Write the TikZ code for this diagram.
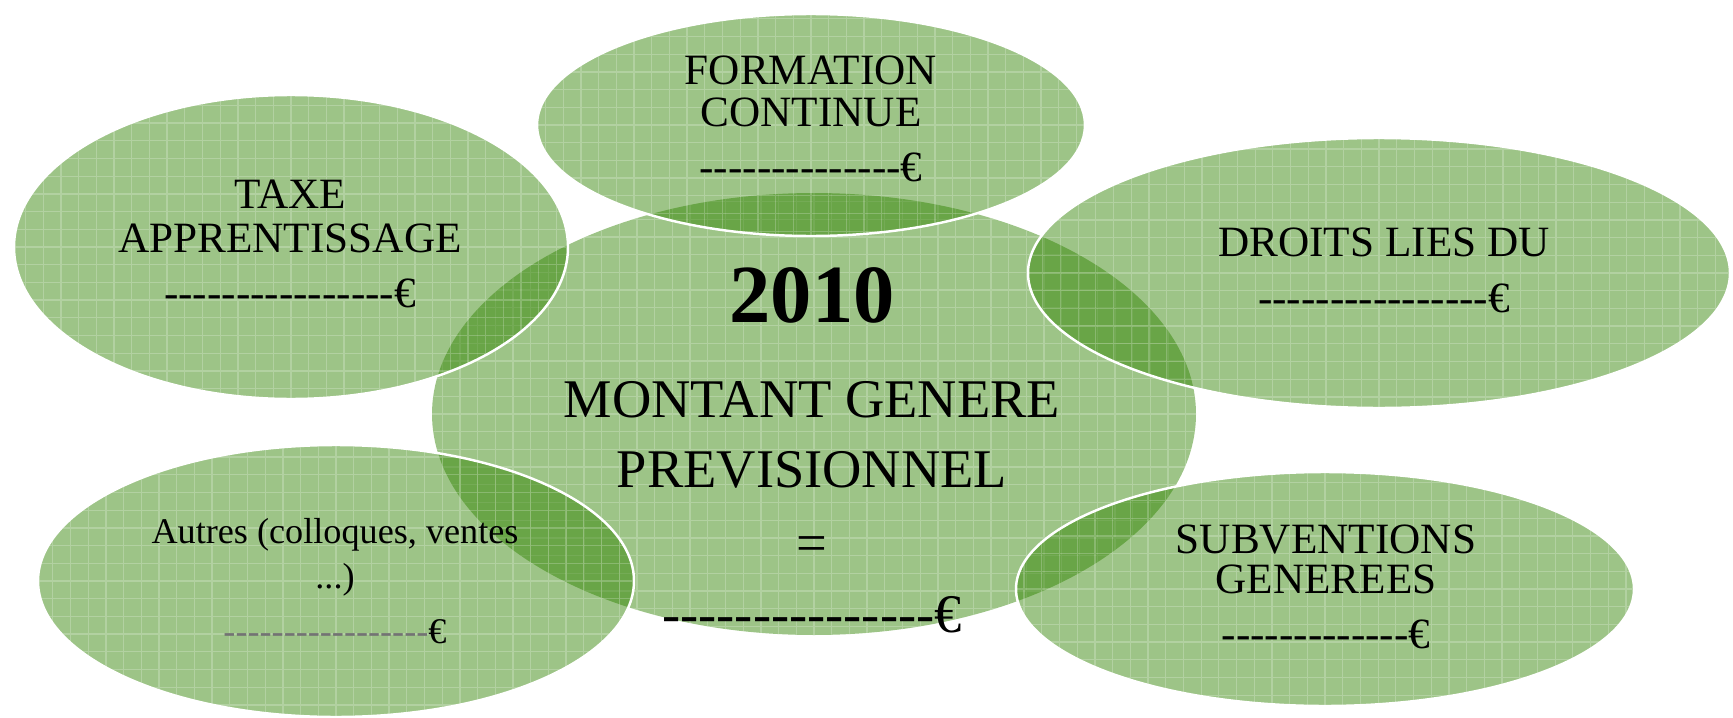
\documentclass[tikz,border=0pt]{standalone}
\usepackage{fontspec}
\setmainfont{Liberation Serif}
\usetikzlibrary{shapes.geometric}

\definecolor{vert}{RGB}{47,130,0}
\newcommand{\tirets}[1]{\foreach \i in {1,...,#1}{\mbox{-}}}

\begin{document}
\begin{tikzpicture}[x=0.1mm, y=-0.1mm,
    bulle/.style={ellipse, fill=vert, fill opacity=.47, draw=white, line width=.7pt, inner sep=0pt,
        path picture={\draw[white, opacity=.22, line width=.35pt, step=1.77mm]
            (path picture bounding box.south west) grid (path picture bounding box.north east);}},
    txt/.style={anchor=base, inner sep=0pt, font=\fontsize{12.3}{14}\selectfont},
    petit/.style={txt, font=\fontsize{10.3}{12}\selectfont},
    grand/.style={txt, font=\fontsize{15.5}{18}\selectfont}]
    \useasboundingbox (0,0) rectangle (1733,718);

    % bulles
    \node[bulle, draw=none, minimum width=76.4mm, minimum height=44.2mm] (total) at (814,414) {};
    \node[bulle, minimum width=54.8mm, minimum height=22.2mm] (formation) at (811,125) {};
    \node[bulle, minimum width=55.4mm, minimum height=30.4mm] (taxe) at (291,247) {};
    \node[bulle, minimum width=70.2mm, minimum height=27.0mm] (droits) at (1379,273) {};
    \node[bulle, minimum width=59.6mm, minimum height=27.2mm] (autres) at (336,581) {};
    \node[bulle, minimum width=61.8mm, minimum height=23.4mm] (subv) at (1325,589) {};

    % textes
    \node[txt] (fc1) at (811,84) {FORMATION};
    \node[txt] (fc2) at (811,126) {CONTINUE};
    \node[txt] (fc3) at (811,181) {\tirets{14}€};

    \node[txt] (ta1) at (290,208) {TAXE};
    \node[txt] (ta2) at (290,252) {APPRENTISSAGE};
    \node[txt] (ta3) at (290,307) {\tirets{16}€};

    \node[txt] (dl1) at (1384,256) {DROITS LIES DU};
    \node[txt] (dl2) at (1384,312) {\tirets{16}€};

    \node[petit] (au1) at (335,543) {Autres (colloques, ventes};
    \node[petit] (au2) at (335,588) {...)};
    \node[petit] (au3) at (335,643) {\textcolor{black!55}{\tirets{17}}€};

    \node[txt] (sg1) at (1326,553) {SUBVENTIONS};
    \node[txt] (sg2) at (1326,593) {GENEREES};
    \node[txt] (sg3) at (1326,648) {\tirets{13}€};

    \node[txt, font=\fontsize{23.5}{28}\selectfont\bfseries] (annee) at (812,322) {2010};
    \node[grand] (mt1) at (812,417) {MONTANT GENERE};
    \node[grand] (mt2) at (812,487) {PREVISIONNEL};
    \node[grand] (mt3) at (812,561) {=};
    \node[grand] (mt4) at (812,632) {\tirets{15}€};
\end{tikzpicture}
\end{document}
